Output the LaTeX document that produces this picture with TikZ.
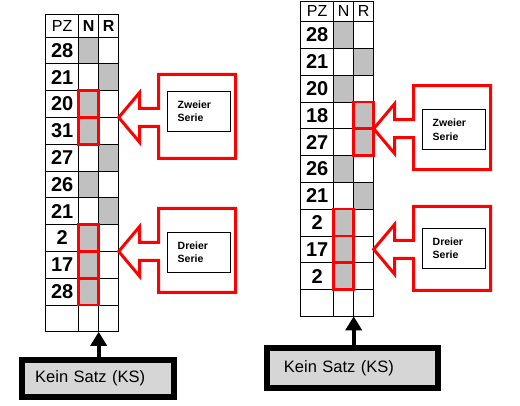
\documentclass[tikz,border=0pt]{standalone}
\usepackage{fontspec}
\setmainfont{Liberation Sans}
\usetikzlibrary{matrix,arrows.meta,positioning}

\definecolor{zellgrau}{RGB}{192,192,192}
\definecolor{marmor}{RGB}{214,214,214}

\begin{document}
\begin{tikzpicture}[x=1pt,y=-1pt,% y runs downwards, as in the screen picture
        tabelle/.style={matrix of nodes, nodes in empty cells, inner sep=0pt, outer sep=0pt,
          column sep=-0.8pt, row sep=-0.8pt,
          nodes={draw, line width=0.8pt, anchor=center, inner sep=0pt, outer sep=0pt,
            minimum height=26.8pt, font=\fontsize{20}{20}\selectfont\bfseries},
          column 1/.style={nodes={minimum width=33pt}},
          column 2/.style={nodes={minimum width=20pt}},
          column 3/.style={nodes={minimum width=20pt}}},
        grau/.style={fill=zellgrau},
        kopffett/.style={font=\fontsize{16}{16}\selectfont\bfseries},
        rot/.style={draw=red, line width=2.7pt},
        pfeilrahmen/.style={draw=red, line width=3pt, line join=miter},
        infokasten/.style={draw, line width=0.8pt, minimum height=40pt, text width=42pt,
          inner xsep=10.5pt, align=left, font=\fontsize{10.5}{13.5}\selectfont\bfseries},
        satzkasten/.style={draw, line width=6pt, fill=marmor, align=left,
          font=\fontsize{16.5}{16.5}\selectfont},
        kspfeil/.style={line width=4pt, -{Triangle[width=16pt,length=14pt]}}]
\useasboundingbox (0,0) rectangle (520,405);

% linke Tabelle
\matrix (L) [tabelle, anchor=north west,
        row 1/.style={nodes={minimum height=22.7pt, font=\fontsize{16}{16}\selectfont}}] at (45.3,13.9) {
PZ & |[kopffett]| N & |[kopffett]| R \\
28 & |[grau]| & \\
21 & & |[grau]| \\
20 & |[grau]| & \\
31 & |[grau]| & \\
27 & & |[grau]| \\
26 & |[grau]| & \\
21 & & |[grau]| \\
2 & |[grau]| & \\
17 & |[grau]| & \\
28 & |[grau]| & \\
 & & \\
};

% rechte Tabelle
\matrix (R) [tabelle, anchor=north west,
        row 1/.style={nodes={minimum height=20.5pt, font=\fontsize{16}{16}\selectfont}}] at (300.3,0.6) {
PZ & N & R \\
28 & |[grau]| & \\
21 & & |[grau]| \\
20 & |[grau]| & \\
18 & & |[grau]| \\
27 & & |[grau]| \\
26 & |[grau]| & \\
21 & & |[grau]| \\
2 & |[grau]| & \\
17 & |[grau]| & \\
2 & |[grau]| & \\
 & & \\
};

% Serien rot umrahmen
\foreach \z in {4,5,9,10,11}
  \draw[rot] (L-\z-2.north west) rectangle (L-\z-2.south east);
\foreach \z in {5,6}
  \draw[rot] (R-\z-3.north west) rectangle (R-\z-3.south east);
\foreach \z in {9,10,11}
  \draw[rot] (R-\z-2.north west) rectangle (R-\z-2.south east);

% Pfeilkaesten
\coordinate (spitzeL1) at (L-4-3.south east);
\coordinate (spitzeL2) at (L-9-3.south east);
\coordinate (spitzeR1) at (R-5-3.south east);
\coordinate (spitzeR2) at (R-10-3.east);
\foreach \s/\t/\v in {L1/Zweier/-6,L2/Dreier/1,R1/Zweier/1,R2/Dreier/-1}{ %\s Kasten, \t Text, \v Hoehe
\draw[pfeilrahmen] (spitze\s) -- ++(21,-25) -- ++(0,16) -- ++(19,0) -- ++(0,-34) -- ++(77,0)
  -- ++(0,84) -- ++(-77,0) -- ++(0,-32) -- ++(-19,0) -- ++(0,16) -- cycle;
\node[infokasten] (info\s) at ([shift={(80,\v)}]spitze\s) {\t\\Serie};
}

% Kein Satz
\node[satzkasten, text width=126pt, inner xsep=13pt, minimum height=37.3pt] (ksL) at (98.2,378.3) {Kein Satz (KS)};
\node[satzkasten, text width=136.7pt, inner xsep=17pt, minimum height=39.7pt] (ksR) at (352.3,367.8) {Kein Satz (KS)};
\draw[kspfeil] (ksL.north -| L-12-2.south east) -- (L-12-2.south east);
\draw[kspfeil] (ksR.north -| R-12-2.south east) -- (R-12-2.south east);
\end{tikzpicture}
\end{document}
